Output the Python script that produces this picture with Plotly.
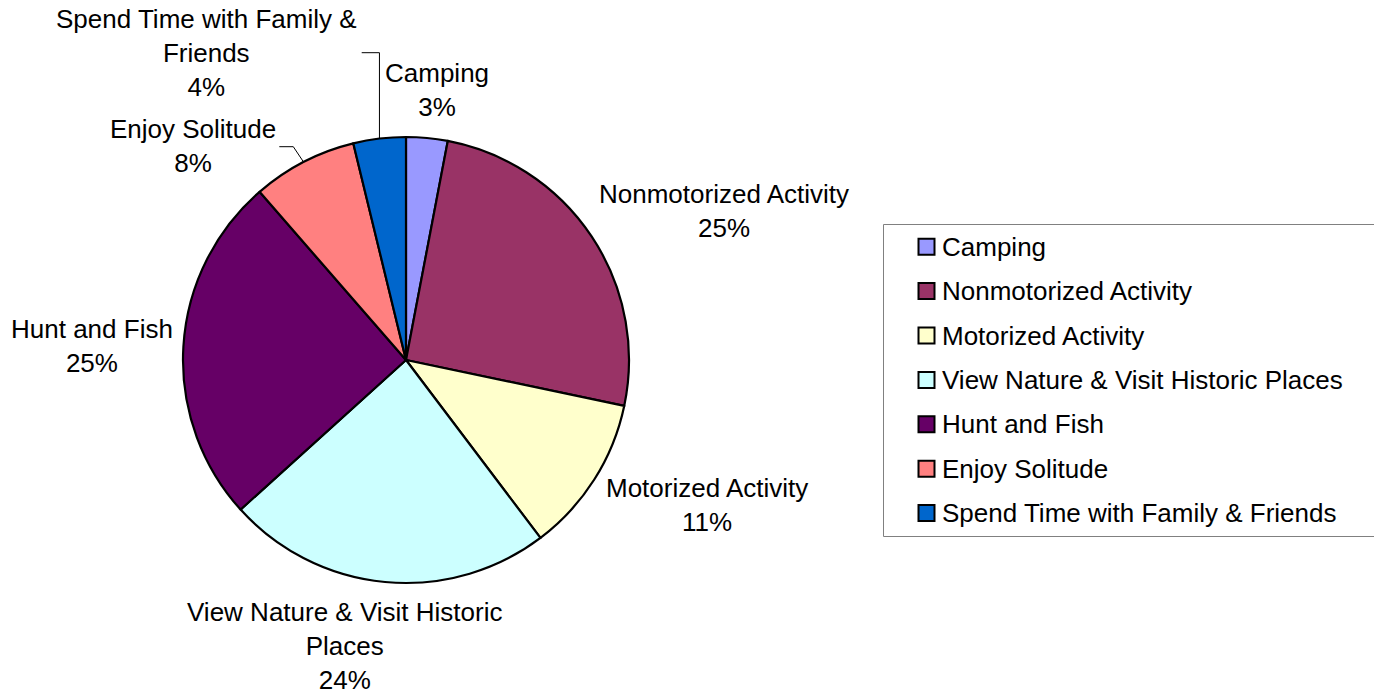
import math
import plotly.graph_objects as go

# ---------------- data ----------------
categories = [
    "Camping",
    "Nonmotorized Activity",
    "Motorized Activity",
    "View Nature & Visit Historic Places",
    "Hunt and Fish",
    "Enjoy Solitude",
    "Spend Time with Family & Friends",
]
shares = [3.0, 25.3, 11.4, 23.6, 25.3, 7.6, 3.8]
label_lines = [
    ["Camping"],
    ["Nonmotorized Activity"],
    ["Motorized Activity"],
    ["View Nature & Visit Historic", "Places"],
    ["Hunt and Fish"],
    ["Enjoy Solitude"],
    ["Spend Time with Family &", "Friends"],
]
colors = ["#9999FF", "#993366", "#FFFFCC", "#CCFFFF", "#660066", "#FF8080", "#0066CC"]

# ---------------- layout (pixels) ----------------
W, H = 1374, 696
CX, CY, R = 406, 360, 223
FONT = "Arial, Liberation Sans, sans-serif"
FS = 26

# label block centres (pixel coords)
label_pos = [
    (436.5, 90.5),
    (724, 211),
    (707, 505),
    (345, 646),
    (92, 346),
    (192.5, 146),
    (206.7, 53),
]
# leader lines: label-side start points and elbows, keyed by category index
leaders = {
    5: [(279.3, 146.7), (293.3, 146.7)],
    6: [(361.7, 52.7), (None, 52.7)],
}


def px(x):
    return x / W


def py(y):
    return 1 - y / H


fig = go.Figure()
fig.add_trace(go.Pie(
    labels=categories,
    values=shares,
    sort=False,
    direction="clockwise",
    rotation=0,
    marker=dict(colors=colors, line=dict(color="black", width=2.2)),
    textinfo="none",
    hoverinfo="label+percent",
    showlegend=False,
    domain=dict(x=[px(CX - R), px(CX + R)], y=[py(CY + R), py(CY - R)]),
))

total = sum(shares)
annotations = []
shapes = []

# data labels
cum = 0.0
for i, (cat, v) in enumerate(zip(categories, shares)):
    mid = (cum + v / 2) / total * 2 * math.pi
    cum += v
    pct = f"{round(100 * v / total)}%"
    text = "<br>".join(label_lines[i] + [pct])
    lx, ly = label_pos[i]
    annotations.append(dict(
        x=px(lx), y=py(ly), xref="paper", yref="paper",
        text=text, showarrow=False, xanchor="center", yanchor="middle",
        align="center", font=dict(family=FONT, size=FS, color="black"),
    ))
    if i in leaders:
        ex = CX + R * math.sin(mid)
        ey = CY - R * math.cos(mid)
        pts = []
        for (x, y) in leaders[i]:
            pts.append((ex if x is None else x, y))
        pts.append((ex, ey))
        path = "M " + " L ".join(f"{px(x)},{py(y)}" for x, y in pts)
        shapes.append(dict(type="path", xref="paper", yref="paper", path=path,
                           line=dict(color="black", width=1)))

# legend box
LEG_X0, LEG_Y0, LEG_Y1 = 883.5, 224.5, 536.5
shapes.append(dict(type="rect", xref="paper", yref="paper",
                   x0=px(LEG_X0), x1=px(W + 10), y0=py(LEG_Y1), y1=py(LEG_Y0),
                   line=dict(color="#808080", width=1), fillcolor="rgba(0,0,0,0)"))
LEG_FIRST, LEG_STEP, SQ = 246.7, 44.4, 16
SQ_X = 918.5
for i, cat in enumerate(categories):
    yc = LEG_FIRST + i * LEG_STEP
    shapes.append(dict(type="rect", xref="paper", yref="paper",
                       x0=px(SQ_X), x1=px(SQ_X + SQ), y0=py(yc + SQ / 2), y1=py(yc - SQ / 2),
                       fillcolor=colors[i], line=dict(color="black", width=2)))
    annotations.append(dict(
        x=px(940), y=py(yc), xref="paper", yref="paper", text=cat,
        showarrow=False, xanchor="left", yanchor="middle", align="left",
        font=dict(family=FONT, size=FS, color="black"),
    ))

fig.update_layout(
    width=W, height=H,
    margin=dict(l=0, r=0, t=0, b=0),
    paper_bgcolor="white", plot_bgcolor="white",
    annotations=annotations, shapes=shapes,
    showlegend=False,
)
fig.write_html(
    "out.html",
    config={"displayModeBar": False},
    post_script="document.body.style.margin='0';document.body.style.overflow='hidden';",
)
